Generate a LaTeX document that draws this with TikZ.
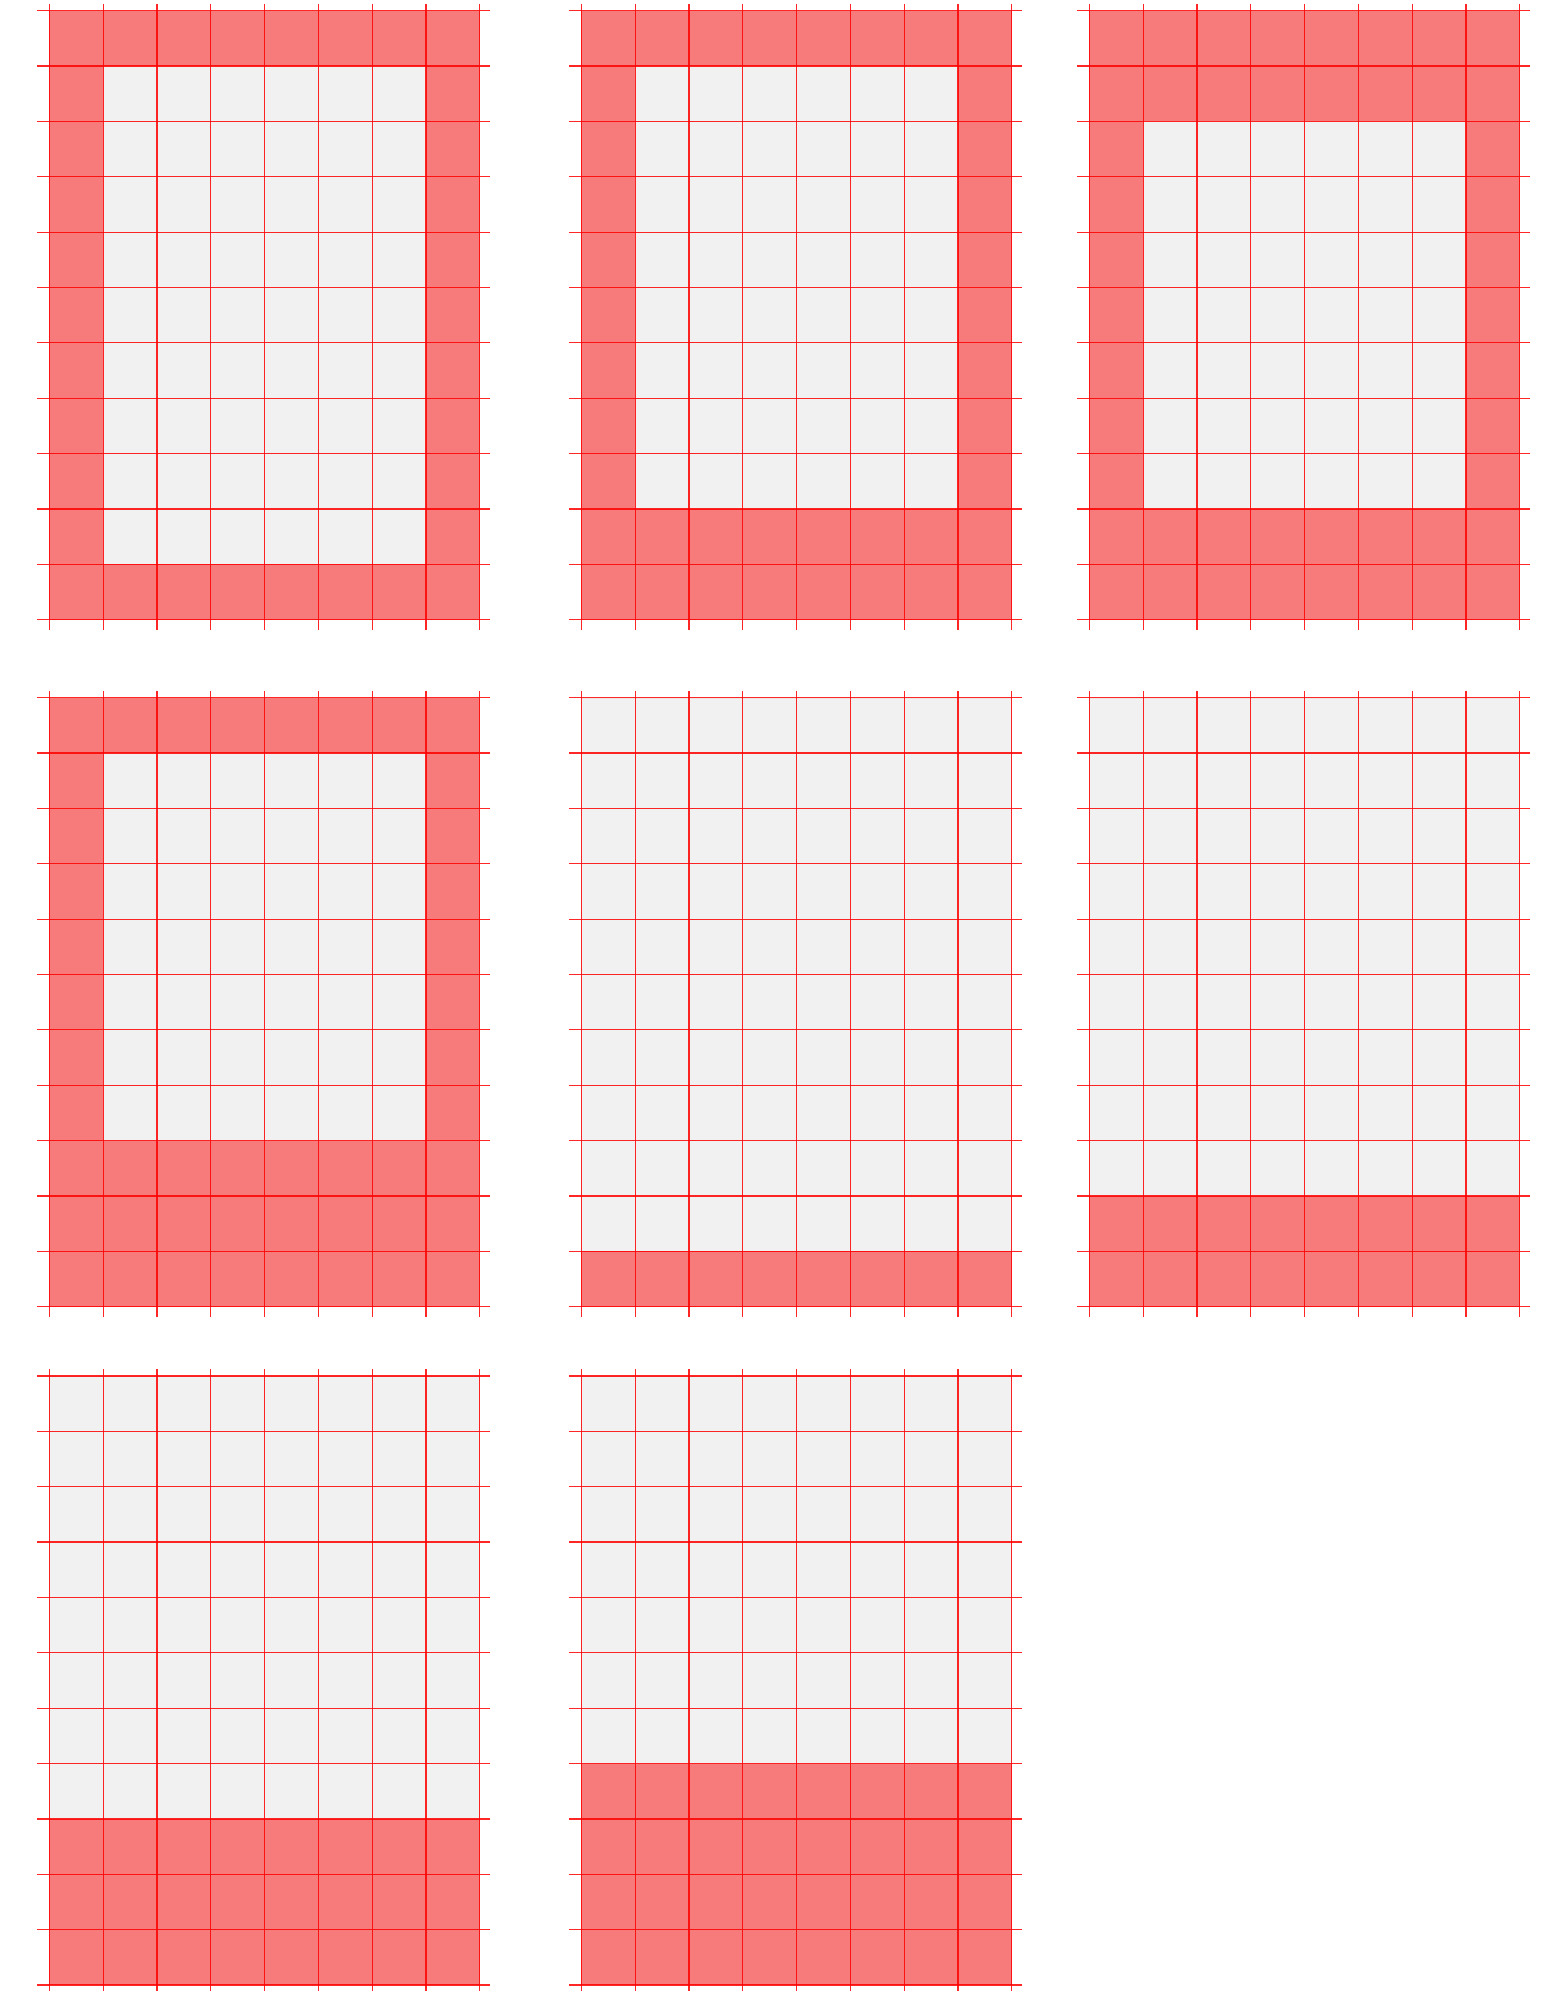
\documentclass[tikz,border=0pt]{standalone}
\usepackage{xcolor}
\definecolor{cellgray}{RGB}{241,241,241}
\definecolor{cellred}{RGB}{247,123,123}

\begin{document}
\begin{tikzpicture}[
  x=0.5pt,
  y=-0.5pt,
  cell/.style={fill=cellgray},
  hot/.style={fill=cellred},
  gridline/.style={red, line width=0.6pt, opacity=0.85}
]
\useasboundingbox (0,0) rectangle (1564,1991);
\foreach \px/\py/\t/\b/\s in {49.3/10.7/1/1/1, 581.3/10.7/1/2/1, 1089.3/10.7/2/2/1,
                               49.3/697.7/1/3/1, 581.3/697.7/0/1/0, 1089.3/697.7/0/2/0,
                               49.3/1376/0/3/0, 581.3/1376/0/4/0} {
  \begin{scope}[shift={(\px,\py)}, x=26.9pt, y=-27.68pt]
    \fill[cell] (0,0) rectangle (8,11);
    \fill[hot] (0,0) rectangle (8,\t);
    \fill[hot] (0,11-\b) rectangle (8,11);
    \fill[hot] (0,0) rectangle (\s,11);
    \fill[hot] (8-\s,0) rectangle (8,11);
    \foreach \c in {0,...,8}
      \draw[gridline] (\c,-0.12) -- (\c,11.19);
    \foreach \r in {0,...,11}
      \draw[gridline] (-0.22,\r) -- (8.2,\r);
  \end{scope}
}
\end{tikzpicture}
\end{document}
